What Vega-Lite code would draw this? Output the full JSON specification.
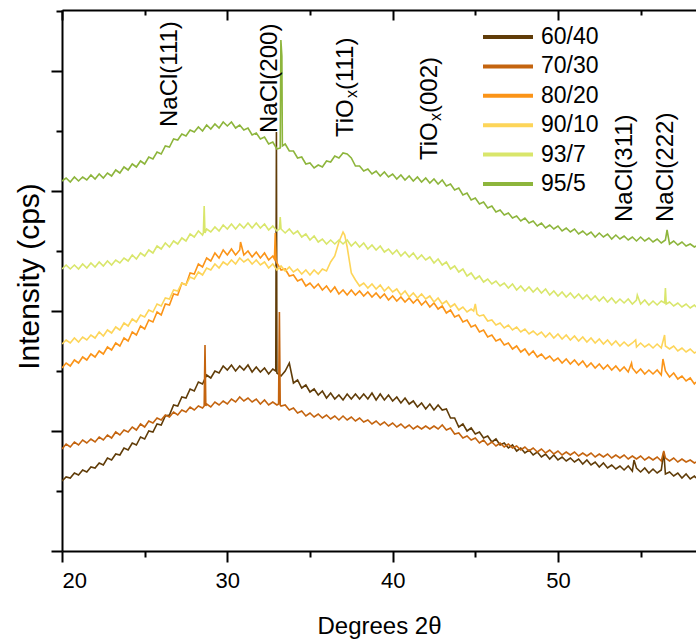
{
  "width": 634,
  "height": 541,
  "autosize": {"type": "none"},
  "padding": {"left": 62, "top": 10, "right": 0, "bottom": 92},
  "background": "white",
  "config": {
    "view": {"stroke": null},
    "font": "Liberation Sans",
    "axis": {"domainColor": "black", "tickColor": "black", "labelColor": "black", "titleColor": "black", "grid": false, "titleFontWeight": "normal", "domainWidth": 2, "tickWidth": 2}
  },
  "resolve": {"axis": {"x": "independent", "y": "independent"}},
  "layer": [
    {
      "data": {"values": [
        {"x":20.00,"60/40":70,"70/30":102,"80/20":183,"90/10":207,"93/7":282,"95/5":370},
        {"x":20.25,"60/40":74,"70/30":107,"80/20":188,"90/10":211,"93/7":286,"95/5":373},
        {"x":20.50,"60/40":73,"70/30":104,"80/20":185,"90/10":208,"93/7":282,"95/5":369},
        {"x":20.75,"60/40":78,"70/30":109,"80/20":191,"90/10":213,"93/7":286,"95/5":374},
        {"x":21.00,"60/40":76,"70/30":106,"80/20":188,"90/10":209,"93/7":282,"95/5":370},
        {"x":21.25,"60/40":81,"70/30":111,"80/20":194,"90/10":214,"93/7":287,"95/5":374},
        {"x":21.50,"60/40":79,"70/30":108,"80/20":191,"90/10":211,"93/7":283,"95/5":371},
        {"x":21.75,"60/40":84,"70/30":112,"80/20":197,"90/10":216,"93/7":288,"95/5":376},
        {"x":22.00,"60/40":83,"70/30":109,"80/20":194,"90/10":213,"93/7":284,"95/5":372},
        {"x":22.25,"60/40":88,"70/30":114,"80/20":200,"90/10":219,"93/7":289,"95/5":377},
        {"x":22.50,"60/40":86,"70/30":111,"80/20":197,"90/10":215,"93/7":285,"95/5":373},
        {"x":22.75,"60/40":93,"70/30":116,"80/20":204,"90/10":221,"93/7":290,"95/5":378},
        {"x":23.00,"60/40":91,"70/30":113,"80/20":201,"90/10":218,"93/7":286,"95/5":375},
        {"x":23.25,"60/40":97,"70/30":119,"80/20":208,"90/10":224,"93/7":291,"95/5":381},
        {"x":23.50,"60/40":96,"70/30":116,"80/20":205,"90/10":221,"93/7":288,"95/5":378},
        {"x":23.75,"60/40":103,"70/30":121,"80/20":213,"90/10":228,"93/7":293,"95/5":384},
        {"x":24.00,"60/40":101,"70/30":119,"80/20":210,"90/10":225,"93/7":290,"95/5":381},
        {"x":24.25,"60/40":108,"70/30":124,"80/20":219,"90/10":232,"93/7":296,"95/5":387},
        {"x":24.50,"60/40":106,"70/30":121,"80/20":216,"90/10":229,"93/7":292,"95/5":384},
        {"x":24.75,"60/40":114,"70/30":127,"80/20":225,"90/10":236,"93/7":298,"95/5":390},
        {"x":25.00,"60/40":112,"70/30":124,"80/20":222,"90/10":234,"93/7":295,"95/5":387},
        {"x":25.25,"60/40":120,"70/30":130,"80/20":231,"90/10":241,"93/7":301,"95/5":394},
        {"x":25.50,"60/40":119,"70/30":128,"80/20":229,"90/10":239,"93/7":298,"95/5":392},
        {"x":25.75,"60/40":127,"70/30":133,"80/20":239,"90/10":247,"93/7":305,"95/5":399},
        {"x":26.00,"60/40":126,"70/30":131,"80/20":236,"90/10":245,"93/7":302,"95/5":397},
        {"x":26.25,"60/40":135,"70/30":136,"80/20":247,"90/10":253,"93/7":308,"95/5":405},
        {"x":26.50,"60/40":136,"70/30":134,"80/20":246,"90/10":252,"93/7":304,"95/5":404},
        {"x":26.75,"60/40":146,"70/30":139,"80/20":257,"90/10":261,"93/7":310,"95/5":412},
        {"x":27.00,"60/40":145,"70/30":136,"80/20":256,"90/10":260,"93/7":307,"95/5":411},
        {"x":27.25,"60/40":154,"70/30":141,"80/20":268,"90/10":268,"93/7":313,"95/5":417},
        {"x":27.50,"60/40":153,"70/30":139,"80/20":266,"90/10":266,"93/7":310,"95/5":415},
        {"x":27.75,"60/40":162,"70/30":144,"80/20":278,"90/10":274,"93/7":317,"95/5":421},
        {"x":28.00,"60/40":160,"70/30":141,"80/20":277,"90/10":272,"93/7":314,"95/5":419},
        {"x":28.25,"60/40":169,"70/30":145,"80/20":287,"90/10":279,"93/7":320,"95/5":424},
        {"x":28.50,"60/40":167,"70/30":143,"80/20":284,"90/10":276,"93/7":316,"95/5":420},
        {"x":28.75,"60/40":176,"70/30":147,"80/20":293,"90/10":283,"93/7":322,"95/5":426},
        {"x":29.00,"60/40":173,"70/30":144,"80/20":290,"90/10":281,"93/7":319,"95/5":422},
        {"x":29.25,"60/40":180,"70/30":149,"80/20":298,"90/10":287,"93/7":324,"95/5":427},
        {"x":29.50,"60/40":178,"70/30":146,"80/20":293,"90/10":283,"93/7":320,"95/5":423},
        {"x":29.75,"60/40":185,"70/30":150,"80/20":301,"90/10":289,"93/7":326,"95/5":429},
        {"x":30.00,"60/40":181,"70/30":147,"80/20":296,"90/10":286,"93/7":322,"95/5":425},
        {"x":30.25,"60/40":186,"70/30":152,"80/20":302,"90/10":291,"93/7":327,"95/5":429},
        {"x":30.50,"60/40":180,"70/30":149,"80/20":296,"90/10":287,"93/7":322,"95/5":423},
        {"x":30.75,"60/40":185,"70/30":154,"80/20":301,"90/10":293,"93/7":327,"95/5":426},
        {"x":31.00,"60/40":181,"70/30":150,"80/20":296,"90/10":289,"93/7":323,"95/5":421},
        {"x":31.25,"60/40":186,"70/30":153,"80/20":300,"90/10":292,"93/7":328,"95/5":423},
        {"x":31.50,"60/40":179,"70/30":149,"80/20":294,"90/10":287,"93/7":323,"95/5":416},
        {"x":31.75,"60/40":184,"70/30":152,"80/20":299,"90/10":291,"93/7":328,"95/5":418},
        {"x":32.00,"60/40":179,"70/30":147,"80/20":293,"90/10":286,"93/7":323,"95/5":412},
        {"x":32.25,"60/40":183,"70/30":151,"80/20":298,"90/10":289,"93/7":327,"95/5":414},
        {"x":32.50,"60/40":177,"70/30":146,"80/20":291,"90/10":283,"93/7":321,"95/5":407},
        {"x":32.75,"60/40":182,"70/30":149,"80/20":295,"90/10":287,"93/7":325,"95/5":409},
        {"x":33.00,"60/40":178,"70/30":146,"80/20":288,"90/10":281,"93/7":320,"95/5":402},
        {"x":33.25,"60/40":175,"70/30":145,"80/20":281,"90/10":285,"93/7":322},
        {"x":33.50,"60/40":180,"70/30":146,"80/20":282,"90/10":280,"93/7":318,"95/5":407},
        {"x":33.75,"60/40":188,"70/30":141,"80/20":275,"90/10":284,"93/7":322,"95/5":400},
        {"x":34.00,"60/40":168,"70/30":143,"80/20":276,"90/10":279,"93/7":317,"95/5":400},
        {"x":34.25,"60/40":171,"70/30":138,"80/20":270,"90/10":282,"93/7":320,"95/5":393},
        {"x":34.50,"60/40":163,"70/30":140,"80/20":272,"90/10":277,"93/7":314,"95/5":394},
        {"x":34.75,"60/40":166,"70/30":135,"80/20":265,"90/10":281,"93/7":317,"95/5":387},
        {"x":35.00,"60/40":159,"70/30":138,"80/20":268,"90/10":276,"93/7":311,"95/5":388},
        {"x":35.25,"60/40":162,"70/30":134,"80/20":263,"90/10":281,"93/7":315,"95/5":383},
        {"x":35.50,"60/40":156,"70/30":137,"80/20":267,"90/10":277,"93/7":309,"95/5":386},
        {"x":35.75,"60/40":160,"70/30":133,"80/20":261,"90/10":282,"93/7":312,"95/5":384},
        {"x":36.00,"60/40":153,"70/30":136,"80/20":265,"90/10":280,"93/7":307,"95/5":390},
        {"x":36.25,"60/40":158,"70/30":132,"80/20":259,"90/10":289,"93/7":311,"95/5":389},
        {"x":36.50,"60/40":152,"70/30":135,"80/20":264,"90/10":295,"93/7":307,"95/5":395},
        {"x":36.75,"60/40":156,"70/30":131,"80/20":257,"90/10":309,"93/7":311,"95/5":393},
        {"x":37.00,"60/40":151,"70/30":135,"80/20":261,"90/10":319,"93/7":307,"95/5":398},
        {"x":37.25,"60/40":157,"70/30":131,"80/20":256,"90/10":304,"93/7":311,"95/5":397},
        {"x":37.50,"60/40":152,"70/30":134,"80/20":261,"90/10":278,"93/7":305,"95/5":393},
        {"x":37.75,"60/40":157,"70/30":130,"80/20":256,"90/10":271,"93/7":309,"95/5":385},
        {"x":38.00,"60/40":152,"70/30":133,"80/20":260,"90/10":265,"93/7":304,"95/5":385},
        {"x":38.25,"60/40":157,"70/30":129,"80/20":255,"90/10":268,"93/7":308,"95/5":380},
        {"x":38.50,"60/40":152,"70/30":131,"80/20":259,"90/10":263,"93/7":302,"95/5":382},
        {"x":38.75,"60/40":158,"70/30":127,"80/20":254,"90/10":267,"93/7":306,"95/5":377},
        {"x":39.00,"60/40":151,"70/30":130,"80/20":258,"90/10":262,"93/7":301,"95/5":380},
        {"x":39.25,"60/40":157,"70/30":126,"80/20":253,"90/10":266,"93/7":305,"95/5":375},
        {"x":39.50,"60/40":151,"70/30":129,"80/20":257,"90/10":260,"93/7":299,"95/5":379},
        {"x":39.75,"60/40":156,"70/30":125,"80/20":251,"90/10":264,"93/7":302,"95/5":374},
        {"x":40.00,"60/40":150,"70/30":128,"80/20":255,"90/10":259,"93/7":297,"95/5":377},
        {"x":40.25,"60/40":154,"70/30":124,"80/20":250,"90/10":262,"93/7":301,"95/5":372},
        {"x":40.50,"60/40":148,"70/30":127,"80/20":254,"90/10":256,"93/7":295,"95/5":376},
        {"x":40.75,"60/40":153,"70/30":123,"80/20":249,"90/10":260,"93/7":299,"95/5":371},
        {"x":41.00,"60/40":147,"70/30":126,"80/20":253,"90/10":254,"93/7":294,"95/5":375},
        {"x":41.25,"60/40":150,"70/30":122,"80/20":248,"90/10":258,"93/7":298,"95/5":370},
        {"x":41.50,"60/40":144,"70/30":125,"80/20":252,"90/10":253,"93/7":292,"95/5":374},
        {"x":41.75,"60/40":148,"70/30":122,"80/20":246,"90/10":257,"93/7":296,"95/5":369},
        {"x":42.00,"60/40":142,"70/30":125,"80/20":250,"90/10":252,"93/7":291,"95/5":373},
        {"x":42.25,"60/40":147,"70/30":122,"80/20":244,"90/10":255,"93/7":294,"95/5":368},
        {"x":42.50,"60/40":141,"70/30":125,"80/20":248,"90/10":249,"93/7":288,"95/5":372},
        {"x":42.75,"60/40":146,"70/30":122,"80/20":242,"90/10":253,"93/7":292,"95/5":367},
        {"x":43.00,"60/40":141,"70/30":126,"80/20":245,"90/10":247,"93/7":286,"95/5":371},
        {"x":43.25,"60/40":142,"70/30":121,"80/20":238,"90/10":250,"93/7":289,"95/5":365},
        {"x":43.50,"60/40":133,"70/30":123,"80/20":241,"90/10":244,"93/7":282,"95/5":367},
        {"x":43.75,"60/40":133,"70/30":117,"80/20":234,"90/10":247,"93/7":285,"95/5":361},
        {"x":44.00,"60/40":124,"70/30":118,"80/20":236,"90/10":241,"93/7":279,"95/5":363},
        {"x":44.25,"60/40":127,"70/30":113,"80/20":229,"90/10":244,"93/7":282,"95/5":356},
        {"x":44.50,"60/40":120,"70/30":115,"80/20":231,"90/10":239,"93/7":275,"95/5":358},
        {"x":44.75,"60/40":123,"70/30":111,"80/20":224,"90/10":242,"93/7":278,"95/5":351},
        {"x":45.00,"60/40":117,"70/30":113,"80/20":226,"90/10":247,"93/7":272,"95/5":353},
        {"x":45.25,"60/40":119,"70/30":108,"80/20":219,"90/10":235,"93/7":275,"95/5":347},
        {"x":45.50,"60/40":113,"70/30":111,"80/20":221,"90/10":236,"93/7":269,"95/5":349},
        {"x":45.75,"60/40":115,"70/30":106,"80/20":214,"90/10":230,"93/7":272,"95/5":343},
        {"x":46.00,"60/40":109,"70/30":109,"80/20":216,"90/10":231,"93/7":267,"95/5":345},
        {"x":46.25,"60/40":112,"70/30":105,"80/20":210,"90/10":226,"93/7":270,"95/5":339},
        {"x":46.50,"60/40":106,"70/30":108,"80/20":212,"90/10":228,"93/7":265,"95/5":341},
        {"x":46.75,"60/40":108,"70/30":104,"80/20":206,"90/10":223,"93/7":268,"95/5":336},
        {"x":47.00,"60/40":103,"70/30":107,"80/20":208,"90/10":226,"93/7":263,"95/5":338},
        {"x":47.25,"60/40":106,"70/30":103,"80/20":202,"90/10":221,"93/7":267,"95/5":333},
        {"x":47.50,"60/40":100,"70/30":105,"80/20":205,"90/10":224,"93/7":261,"95/5":335},
        {"x":47.75,"60/40":103,"70/30":101,"80/20":199,"90/10":219,"93/7":265,"95/5":330},
        {"x":48.00,"60/40":98,"70/30":104,"80/20":202,"90/10":222,"93/7":260,"95/5":333},
        {"x":48.25,"60/40":101,"70/30":100,"80/20":196,"90/10":217,"93/7":264,"95/5":328},
        {"x":48.50,"60/40":96,"70/30":103,"80/20":200,"90/10":220,"93/7":259,"95/5":330},
        {"x":48.75,"60/40":99,"70/30":99,"80/20":194,"90/10":216,"93/7":263,"95/5":325},
        {"x":49.00,"60/40":94,"70/30":102,"80/20":197,"90/10":219,"93/7":258,"95/5":328},
        {"x":49.25,"60/40":97,"70/30":98,"80/20":192,"90/10":214,"93/7":262,"95/5":323},
        {"x":49.50,"60/40":92,"70/30":101,"80/20":195,"90/10":218,"93/7":256,"95/5":326},
        {"x":49.75,"60/40":96,"70/30":97,"80/20":190,"90/10":213,"93/7":260,"95/5":322},
        {"x":50.00,"60/40":91,"70/30":100,"80/20":193,"90/10":217,"93/7":255,"95/5":325},
        {"x":50.25,"60/40":94,"70/30":96,"80/20":188,"90/10":212,"93/7":259,"95/5":320},
        {"x":50.50,"60/40":90,"70/30":99,"80/20":192,"90/10":216,"93/7":254,"95/5":323},
        {"x":50.75,"60/40":93,"70/30":96,"80/20":187,"90/10":211,"93/7":258,"95/5":319},
        {"x":51.00,"60/40":89,"70/30":99,"80/20":191,"90/10":215,"93/7":253,"95/5":322},
        {"x":51.25,"60/40":92,"70/30":95,"80/20":186,"90/10":210,"93/7":257,"95/5":317},
        {"x":51.50,"60/40":87,"70/30":98,"80/20":190,"90/10":214,"93/7":252,"95/5":320},
        {"x":51.75,"60/40":91,"70/30":95,"80/20":184,"90/10":209,"93/7":256,"95/5":316},
        {"x":52.00,"60/40":86,"70/30":98,"80/20":188,"90/10":213,"93/7":251,"95/5":319},
        {"x":52.25,"60/40":89,"70/30":94,"80/20":183,"90/10":208,"93/7":255,"95/5":314},
        {"x":52.50,"60/40":84,"70/30":97,"80/20":187,"90/10":212,"93/7":250,"95/5":318},
        {"x":52.75,"60/40":88,"70/30":94,"80/20":182,"90/10":207,"93/7":254,"95/5":314},
        {"x":53.00,"60/40":83,"70/30":97,"80/20":186,"90/10":211,"93/7":249,"95/5":317},
        {"x":53.25,"60/40":86,"70/30":93,"80/20":181,"90/10":206,"93/7":253,"95/5":312},
        {"x":53.50,"60/40":82,"70/30":96,"80/20":185,"90/10":210,"93/7":248,"95/5":316},
        {"x":53.75,"60/40":85,"70/30":93,"80/20":180,"90/10":205,"93/7":252,"95/5":312},
        {"x":54.00,"60/40":81,"70/30":96,"80/20":184,"90/10":209,"93/7":248,"95/5":315},
        {"x":54.25,"60/40":85,"70/30":92,"80/20":179,"90/10":205,"93/7":252,"95/5":311},
        {"x":54.50,"60/40":80,"70/30":95,"80/20":183,"90/10":208,"93/7":247,"95/5":314},
        {"x":54.75,"60/40":83,"70/30":92,"80/20":178,"90/10":204,"93/7":251,"95/5":310},
        {"x":55.00,"60/40":79,"70/30":95,"80/20":182,"90/10":208,"93/7":247,"95/5":314},
        {"x":55.25,"60/40":83,"70/30":91,"80/20":177,"90/10":204,"93/7":251,"95/5":310},
        {"x":55.50,"60/40":78,"70/30":94,"80/20":181,"90/10":207,"93/7":246,"95/5":313},
        {"x":55.75,"60/40":82,"70/30":91,"80/20":177,"90/10":203,"93/7":250,"95/5":309},
        {"x":56.00,"60/40":78,"70/30":94,"80/20":181,"90/10":207,"93/7":246,"95/5":312},
        {"x":56.25,"60/40":81,"70/30":90,"80/20":176,"90/10":203,"93/7":250,"95/5":308},
        {"x":56.50,"60/40":77,"70/30":93,"80/20":180,"90/10":205,"93/7":263,"95/5":311},
        {"x":56.75,"60/40":79,"70/30":90,"80/20":174,"90/10":202,"93/7":249,"95/5":307},
        {"x":57.00,"60/40":75,"70/30":93,"80/20":178,"90/10":205,"93/7":245,"95/5":310},
        {"x":57.25,"60/40":78,"70/30":89,"80/20":172,"90/10":200,"93/7":248,"95/5":306},
        {"x":57.50,"60/40":73,"70/30":92,"80/20":175,"90/10":203,"93/7":244,"95/5":309},
        {"x":57.75,"60/40":77,"70/30":89,"80/20":170,"90/10":199,"93/7":247,"95/5":305},
        {"x":58.00,"60/40":72,"70/30":91,"80/20":173,"90/10":202,"93/7":243,"95/5":307},
        {"x":58.25,"60/40":75,"70/30":88,"80/20":167,"90/10":198,"93/7":246,"95/5":304},
        {"x":58.35,"60/40":73,"70/30":89,"80/20":169,"90/10":199,"93/7":244,"95/5":305},
        {"x":32.93,"60/40":180},
        {"x":32.97,"60/40":419},
        {"x":54.6,"60/40":91},
        {"x":56.4,"60/40":99},
        {"x":28.6,"70/30":145},
        {"x":28.65,"70/30":206},
        {"x":28.7,"70/30":145},
        {"x":33.1,"70/30":147},
        {"x":33.15,"70/30":239},
        {"x":33.2,"70/30":146},
        {"x":56.4,"70/30":100},
        {"x":30.8,"80/20":309},
        {"x":32.85,"80/20":292},
        {"x":32.9,"80/20":318},
        {"x":32.95,"80/20":291},
        {"x":54.45,"80/20":188},
        {"x":56.35,"80/20":192},
        {"x":37.1,"90/10":316},
        {"x":44.9,"90/10":240},
        {"x":45.1,"90/10":237},
        {"x":54.7,"90/10":211},
        {"x":56.45,"90/10":216},
        {"x":28.55,"93/7":318},
        {"x":28.6,"93/7":345},
        {"x":28.65,"93/7":318},
        {"x":33.15,"93/7":322},
        {"x":33.2,"93/7":334},
        {"x":54.8,"93/7":256},
        {"x":56.45,"93/7":248},
        {"x":56.55,"93/7":247},
        {"x":33.2,"95/5":403},
        {"x":33.24,"95/5":511},
        {"x":33.3,"95/5":495},
        {"x":33.33,"95/5":405},
        {"x":56.6,"95/5":321}
      ]},
      "transform": [
        {"fold": ["60/40", "70/30", "80/20", "90/10", "93/7", "95/5"], "as": ["series", "v"]},
        {"filter": {"field": "v", "valid": true}}
      ],
      "mark": {"type": "line", "strokeWidth": 1.6, "clip": true},
      "encoding": {
        "x": {
          "field": "x", "type": "quantitative",
          "scale": {"domain": [20, 58.35], "nice": false, "zero": false},
          "axis": {
            "orient": "bottom",
            "values": [20, 25, 30, 35, 40, 45, 50, 55],
            "labelExpr": "datum.value % 10 === 0 ? datum.label : ''",
            "tickSize": {"condition": {"test": "datum.value % 10 === 0", "value": 11}, "value": 6},
            "labelFontSize": 22,
            "labelPadding": 8,
            "title": "Degrees 2θ",
            "titleFontSize": 24,
            "titlePadding": 23
          }
        },
        "y": {
          "field": "v", "type": "quantitative",
          "scale": {"domain": [0, 541], "nice": false, "zero": false},
          "axis": {
            "orient": "left",
            "values": [0, 60, 120, 180, 240, 300, 360, 420, 480, 540],
            "labels": false,
            "tickSize": {"condition": {"test": "datum.value % 120 === 0", "value": 11}, "value": 6},
            "title": "Intensity (cps)",
            "titleFontSize": 30,
            "titleX": -18,
            "titleY": 266
          }
        },
        "color": {
          "field": "series", "type": "nominal",
          "scale": {
            "domain": ["60/40", "70/30", "80/20", "90/10", "93/7", "95/5"],
            "range": ["#603c08", "#c4640f", "#fb9418", "#fdd559", "#d9e66b", "#8db53c"]
          },
          "legend": {
            "orient": "none",
            "legendX": 434,
            "legendY": 15,
            "title": null,
            "padding": 0,
            "symbolType": "M-2.5,0H2.5",
            "symbolSize": 400,
            "symbolStrokeWidth": 4,
            "labelFontSize": 23,
            "labelColor": "black",
            "labelOffset": 21,
            "rowPadding": 5.4
          }
        }
      }
    },
    {
      "data": {"values": [
        {"x": 26.53, "v": 424, "label": "NaCl(111)"},
        {"x": 32.58, "v": 418, "label": "NaCl(200)"},
        {"x": 37.18, "v": 414, "label": "TiO"},
        {"x": 37.18, "v": 461, "label": "(111)"},
        {"x": 42.26, "v": 391, "label": "TiO"},
        {"x": 42.26, "v": 438, "label": "(002)"},
        {"x": 54.06, "v": 329, "label": "NaCl(311)"},
        {"x": 56.54, "v": 329, "label": "NaCl(222)"}
      ]},
      "mark": {"type": "text", "angle": 270, "align": "left", "baseline": "middle", "fontSize": 24, "color": "black"},
      "encoding": {
        "x": {
          "field": "x", "type": "quantitative",
          "scale": {"domain": [20, 58.35], "nice": false, "zero": false},
          "axis": {
            "orient": "top",
            "values": [20, 25, 30, 35, 40, 45, 50, 55],
            "labels": false,
            "tickSize": {"condition": {"test": "datum.value % 10 === 0", "value": -10}, "value": -5},
            "title": null
          }
        },
        "y": {"field": "v", "type": "quantitative", "scale": {"domain": [0, 541], "nice": false, "zero": false}, "axis": null},
        "text": {"field": "label"}
      }
    },
    {
      "data": {"values": [
        {"x": 37.55, "v": 453, "label": "x"},
        {"x": 42.63, "v": 430, "label": "x"}
      ]},
      "mark": {"type": "text", "angle": 270, "align": "left", "baseline": "middle", "fontSize": 16, "color": "black"},
      "encoding": {
        "x": {"field": "x", "type": "quantitative", "scale": {"domain": [20, 58.35], "nice": false, "zero": false}, "axis": null},
        "y": {"field": "v", "type": "quantitative", "scale": {"domain": [0, 541], "nice": false, "zero": false}, "axis": null},
        "text": {"field": "label"}
      }
    }
  ]
}
